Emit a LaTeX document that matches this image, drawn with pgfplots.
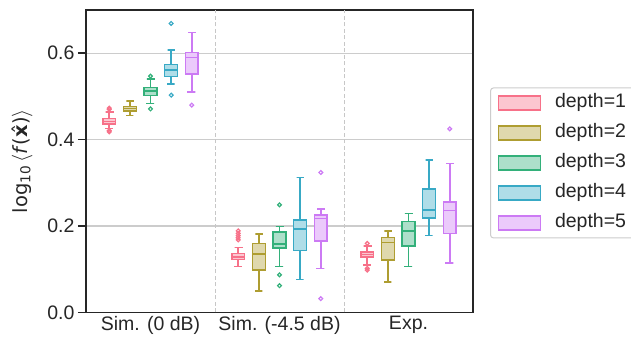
\documentclass[border=0pt]{standalone}
\usepackage{pgfplots}
\pgfplotsset{compat=1.18}
\usepackage{fontspec}
\setmainfont{Liberation Sans}
\newfontfamily\dejavu{DejaVu Sans}
\definecolor{cA}{HTML}{F77189}
\definecolor{cB}{HTML}{AE9D31}
\definecolor{cC}{HTML}{33B07A}
\definecolor{cD}{HTML}{38A9C5}
\definecolor{cE}{HTML}{CC7AF4}
\definecolor{txt}{HTML}{262626}
\newcommand\fs{\fontsize{19.5pt}{23pt}\selectfont}
\pgfplotsset{
  ln/.style={draw=#1, line width=1.5pt, solid, no marks, forget plot, line cap=rect, line join=miter},
  ol/.style={draw=#1, only marks, mark=o, mark size=1.9pt, mark options={draw=#1, fill=none, line width=1.2pt, solid}, forget plot},
}
% \bx{color}{pos}{lower whisker}{lower quartile}{median}{upper quartile}{upper whisker}
\newcommand\bx[7]{%
  \pgfmathsetmacro\xa{#2-0.05}\pgfmathsetmacro\xb{#2+0.05}%
  \pgfmathsetmacro\ca{#2-0.0275}\pgfmathsetmacro\cb{#2+0.0275}%
  \addplot[ln=#1] coordinates {(\ca,#3) (\cb,#3) (#2,#3) (#2,#4)};
  \addplot[ln=#1] coordinates {(#2,#6) (#2,#7) (\ca,#7) (\cb,#7)};
  \addplot[ln=#1, fill=#1!40!white] coordinates {(\xa,#4) (\xb,#4) (\xb,#6) (\xa,#6) (\xa,#4)};
  \addplot[ln=#1] coordinates {(\xa,#5) (\xb,#5)};
}
\newcommand\ot[2]{\addplot[ol=#1] coordinates {#2};}
\begin{document}
\begin{tikzpicture}
\useasboundingbox (0,0) rectangle (631pt,339pt);
\begin{axis}[
  at={(86pt,26.5pt)}, anchor=south west, scale only axis,
  width=387pt, height=302.5pt,
  xmin=-0.5, xmax=2.5, ymin=0, ymax=0.7,
  xtick={0,1,2}, xticklabels={Sim. (0 dB), Sim. (-4.5 dB), Exp.},
  ytick={0,0.2,0.4,0.6},
  xtick pos=bottom, ytick pos=left, tick align=outside,
  major tick length=8pt,
  xtick style={draw=none},
  ytick style={draw=txt, line width=1.5pt},
  axis line style={draw=txt, line width=1.5pt},
  ymajorgrids, major grid style={draw=black!20, line width=1.3pt},
  extra x ticks={0.5,1.5}, extra x tick labels={},
  extra x tick style={grid=major, major grid style={draw=black!22, line width=0.8pt, dash pattern=on 4pt off 2.5pt}, tick style={draw=none}},
  tick label style={font=\fs, text=txt},
  xticklabel style={yshift=8pt},
  /pgf/number format/assume math mode=true,
  yticklabel style={/pgf/number format/.cd, fixed, fixed zerofill, precision=1},
  ylabel={log\textsubscript{10}\,$\langle$\textit{f}(\^{\textbf{x}})$\rangle$},
  ylabel style={font=\fs\dejavu, text=txt, at={(axis description cs:-0.165,0.5)}, anchor=center},
  legend image code/.code={\draw[#1, line width=1.5pt, sharp corners] (0pt,-7pt) rectangle (42pt,7pt);},
  legend cell align=left,
  legend style={at={(1.044,0.744)}, anchor=north west, draw=black!20, line width=1pt, rounded corners=3pt,
    font=\fs, text=txt, inner xsep=7pt, inner ysep=4pt, row sep=8pt,
    nodes={inner sep=2pt, text height=14pt, text depth=4pt},
    /tikz/every odd column/.append style={column sep=12pt}},
]
\addlegendimage{draw=cA, fill=cA!40!white}
\addlegendentry{depth=1}
\addlegendimage{draw=cB, fill=cB!40!white}
\addlegendentry{depth=2}
\addlegendimage{draw=cC, fill=cC!40!white}
\addlegendentry{depth=3}
\addlegendimage{draw=cD, fill=cD!40!white}
\addlegendentry{depth=4}
\addlegendimage{draw=cE, fill=cE!40!white}
\addlegendentry{depth=5}
% Sim. (0 dB)
\bx{cA}{-0.32}{0.426}{0.436}{0.4425}{0.449}{0.464}
\ot{cA}{(-0.32,0.470) (-0.32,0.473) (-0.32,0.418) (-0.32,0.421)}
\bx{cB}{-0.16}{0.456}{0.466}{0.472}{0.477}{0.490}
\bx{cC}{0.00}{0.484}{0.502}{0.513}{0.521}{0.540}
\ot{cC}{(0,0.547) (0,0.471)}
\bx{cD}{0.16}{0.529}{0.546}{0.561}{0.574}{0.608}
\ot{cD}{(0.16,0.669) (0.16,0.503)}
\bx{cE}{0.32}{0.510}{0.552}{0.590}{0.602}{0.648}
\ot{cE}{(0.32,0.480)}
% Sim. (-4.5 dB)
\bx{cA}{0.68}{0.106}{0.123}{0.129}{0.136}{0.150}
\ot{cA}{(0.68,0.168) (0.68,0.173) (0.68,0.178) (0.68,0.183) (0.68,0.189)}
\bx{cB}{0.84}{0.050}{0.098}{0.135}{0.160}{0.182}
\bx{cC}{1.00}{0.107}{0.149}{0.159}{0.186}{0.199}
\ot{cC}{(1,0.249) (1,0.087) (1,0.062)}
\bx{cD}{1.16}{0.076}{0.143}{0.193}{0.214}{0.312}
\bx{cE}{1.32}{0.102}{0.165}{0.217}{0.226}{0.239}
\ot{cE}{(1.32,0.324) (1.32,0.032)}
% Exp.
\bx{cA}{1.68}{0.110}{0.128}{0.134}{0.140}{0.154}
\ot{cA}{(1.68,0.160) (1.68,0.102) (1.68,0.098)}
\bx{cB}{1.84}{0.071}{0.122}{0.162}{0.173}{0.189}
\bx{cC}{2.00}{0.106}{0.154}{0.189}{0.210}{0.229}
\bx{cD}{2.16}{0.178}{0.219}{0.237}{0.286}{0.353}
\bx{cE}{2.32}{0.115}{0.183}{0.236}{0.256}{0.345}
\ot{cE}{(2.32,0.425)}
\end{axis}
\end{tikzpicture}
\end{document}
